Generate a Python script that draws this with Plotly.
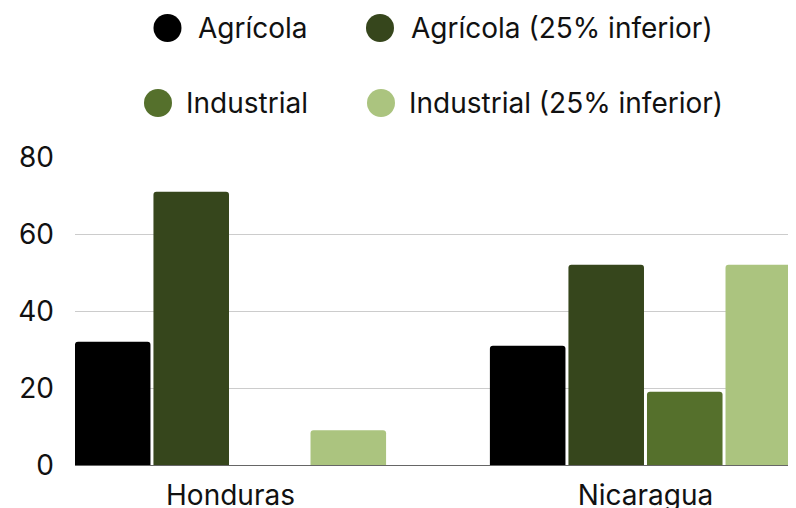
import plotly.graph_objects as go

categories = ["Honduras", "Nicaragua"]
series_names = ["Agrícola", "Agrícola (25% inferior)", "Industrial", "Industrial (25% inferior)"]
agricola = [32, 31]
agricola_inf = [71, 52]
industrial = [0, 19]
industrial_inf = [9, 52]
y_ticks = [0, 20, 40, 60, 80]

colors = ["#000000", "#36461c", "#55702c", "#abc47f"]
values = [agricola, agricola_inf, industrial, industrial_inf]

FONT = "Inter"
FS = 28
W, H = 796, 508
OFF = 8  # page body margin offset
L, R, T, B = 75 - OFF, 796 - OFF, 157 - OFF, 465 - OFF

fig = go.Figure()
for name, vals, col in zip(series_names, values, colors):
    fig.add_trace(go.Bar(x=categories, y=vals, name=name, marker_color=col,
                         marker_line_width=0, showlegend=False))

def px(x):
    return (x - OFF - L) / (R - L)

def py(y):
    return (B - (y - OFF)) / (B - T)

# manual legend (large circle symbols), positions in window pixels
legend_pos = [(167.5, 28, 196), (380, 28, 409), (158, 103, 184), (381, 103, 407)]
shapes = []
annotations = []
rad = 14
for (cx, cy, tx), name, col in zip(legend_pos, series_names, colors):
    shapes.append(dict(type="circle", xref="paper", yref="paper",
                       x0=px(cx - rad), x1=px(cx + rad), y0=py(cy + rad), y1=py(cy - rad),
                       fillcolor=col, line_width=0))
    annotations.append(dict(x=px(tx), y=py(cy), xref="paper", yref="paper", text=name,
                            showarrow=False, xanchor="left", yanchor="middle",
                            font=dict(family=FONT, size=FS, color="#111111")))

fig.update_layout(
    width=W, height=H,
    margin=dict(l=L, r=W - R, t=T, b=H - B, pad=0),
    paper_bgcolor="white", plot_bgcolor="white",
    barmode="group", bargap=0.243, bargroupgap=0.038, barcornerradius=3,
    font=dict(family=FONT, size=FS, color="#111111"),
    shapes=shapes, annotations=annotations,
    showlegend=False,
)
fig.update_xaxes(range=[-0.3747, 1.3627], showline=True, linecolor="#666666", linewidth=1,
                 showgrid=False, ticks="", tickfont=dict(size=FS, family=FONT, color="#111111"),
                 ticklabelstandoff=5, automargin=False)
fig.update_yaxes(range=[0, 80], tickvals=y_ticks, showgrid=True, gridcolor="#cccccc",
                 gridwidth=1, zeroline=False, ticks="", showline=False,
                 tickfont=dict(size=FS, family=FONT, color="#111111"), ticklabelstandoff=20,
                 automargin=False)

fig.write_html("out.html")
